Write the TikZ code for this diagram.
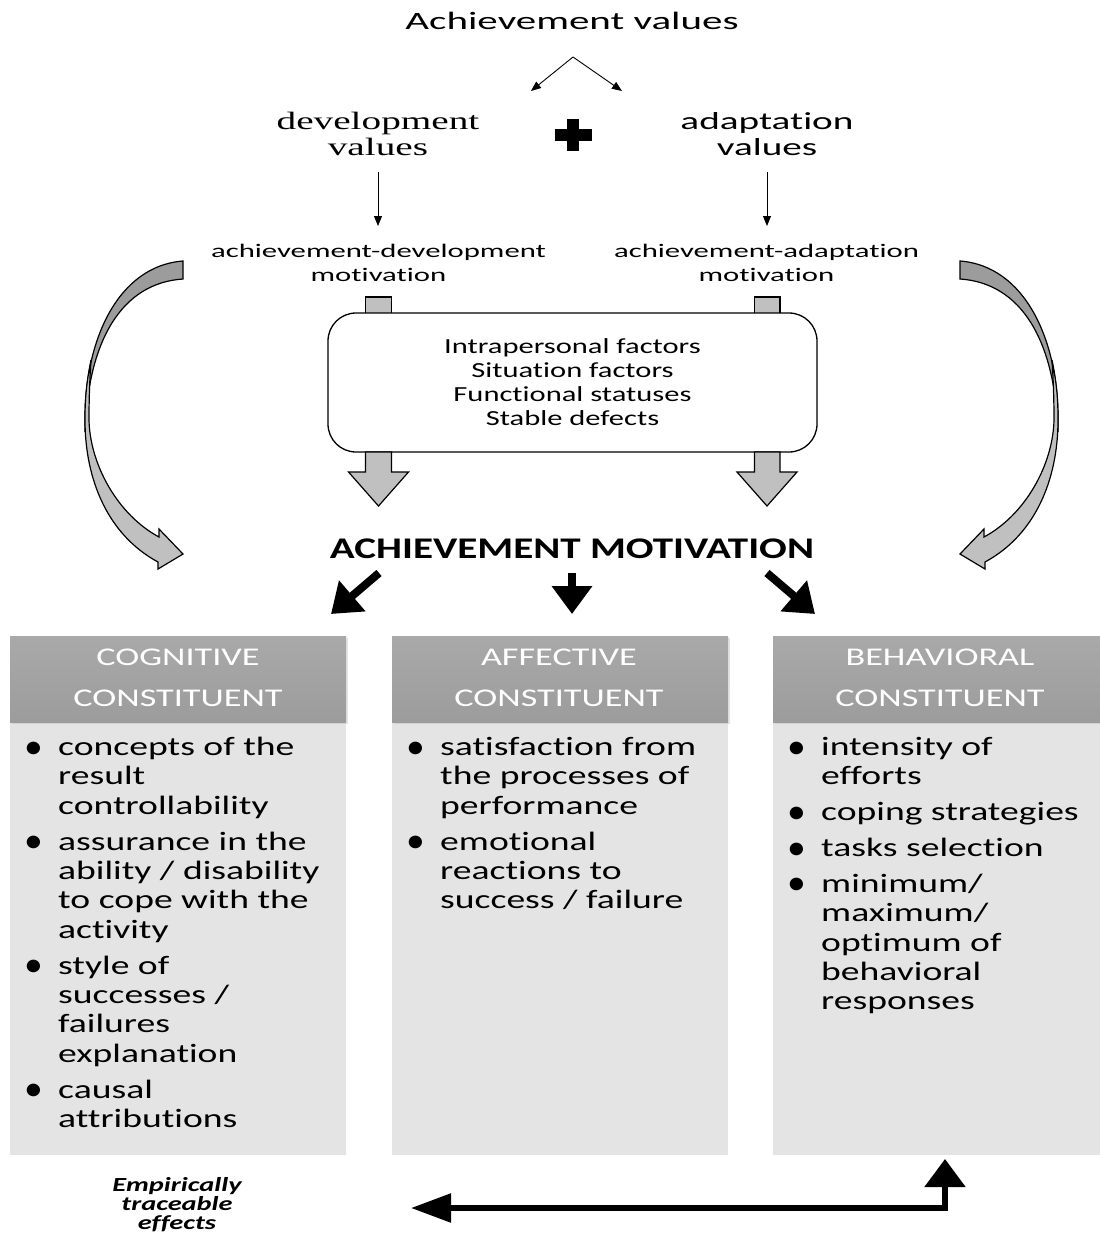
\documentclass[tikz,border=0pt]{standalone}
\usepackage{graphicx}
\usepackage{fontspec}
\setmainfont{Carlito}[FakeStretch=1.42, Ligatures=NoCommon]
\newfontfamily\topfont{Carlito}[FakeStretch=1.6, Ligatures=NoCommon]
\newfontfamily\serifw{Liberation Serif}[FakeStretch=1.57, Ligatures=NoCommon]
\usetikzlibrary{arrows.meta}
\newcommand\fitw[2]{\resizebox{#1}{\height}{#2}}
\newcommand\stk[1]{\begin{tabular}[t]{@{}c@{}}#1\end{tabular}}
\newcommand\blist[1]{\begin{tabular}[t]{@{}p{34pt}@{}l@{}}#1\end{tabular}}
\newcommand\bul{\raisebox{-2.6pt}{\scalebox{1.0}[1.35]{\textbullet}}}
\definecolor{arrgray}{HTML}{C0C0C0}
\definecolor{arrdark}{HTML}{9C9C9C}
\definecolor{hdrtop}{HTML}{A9A9A9}
\definecolor{hdrbot}{HTML}{9C9C9C}
\definecolor{bodyc}{HTML}{E4E4E4}
\tikzset{
  lbl/.style={inner sep=0pt, anchor=base},
  thinarr/.style={line width=0.9pt, -{Triangle[length=10pt,width=8pt]}},
  bigarr/.style={line width=8pt, -{Triangle[length=28pt,width=39pt]}},
  blockarr/.style={fill=arrgray, draw=black, line width=1.2pt, line join=miter},
  hdrbox/.style={draw=none, top color=hdrtop, bottom color=hdrbot, minimum width=336pt, minimum height=86pt, inner sep=0pt},
  bodybox/.style={draw=none, fill=bodyc, minimum width=336pt, minimum height=433pt, inner sep=0pt},
  hdrtxt/.style={lbl, text=white, font=\fontsize{25.5}{40.3}\selectfont},
  bodytxt/.style={inner sep=0pt, anchor=base west, font=\fontsize{26.5}{29.4}\selectfont},
  backband/.style={fill=arrdark, draw=black, line width=1.2pt},
  frontband/.style={fill=arrgray, draw=black, line width=1.2pt, line join=miter},
}
\newcommand\curvedarrow{%
  \draw[backband] (183,261) .. controls (118,266) and (85,340) .. (85,418)
     -- (85,432)
     .. controls (88,340) and (122,283) .. (183,279) -- cycle;
  \draw[frontband] (91,360) .. controls (86,385) and (85,400) .. (85,420)
     .. controls (85,480) and (108,535) .. (158,562)
     -- (158,569) -- (183,554) -- (159,529) -- (159,537)
     .. controls (118,515) and (90,465) .. (89,420)
     .. controls (89,395) and (90,375) .. (91,360) -- cycle;
}
\begin{document}
\begin{tikzpicture}[x=1pt,y=-1pt]
\useasboundingbox (0,0) rectangle (1100,1235);

% ---------- top ----------
\node[lbl] (av) at (572,29.5) {\fitw{333pt}{\topfont\fontsize{25}{30}\selectfont Achievement values}};
\coordinate (avs) at (573,57);
\coordinate (devin) at (531,91);
\coordinate (adin) at (622,91);
\draw[thinarr] (avs) -- (devin);
\draw[thinarr] (avs) -- (adin);

\node[lbl] (devv) at (378,129) {\serifw\fontsize{25}{26.5}\selectfont\stk{development\\values}};
\node[lbl] (adv) at (767,129) {\topfont\fontsize{24.5}{26.5}\selectfont\stk{adaptation\\values}};
\fill (554.5,129) rectangle (591.5,141);
\fill (567,119) rectangle (579,151);

\coordinate (devo) at (378,172);
\coordinate (admi) at (378,226);
\coordinate (advo) at (767,172);
\coordinate (aami) at (767,226);
\draw[thinarr] (devo) -- (admi);
\draw[thinarr] (advo) -- (aami);

\node[lbl] (adm) at (378.5,257.3) {\topfont\fontsize{19.2}{24}\selectfont\stk{achievement-development\\motivation}};
\node[lbl] (aam) at (766.5,257.3) {\topfont\fontsize{19.2}{24}\selectfont\stk{achievement-adaptation\\motivation}};

% ---------- factors box ----------
\draw[blockarr] (365.5,297) rectangle (391.5,314);
\draw[blockarr] (754.5,297) rectangle (780,314);
\node[draw, line width=1.3pt, fill=white, rounded corners=28pt, minimum width=489pt, minimum height=139pt, inner sep=0pt] (fac) at (572.5,382.5) {};
\node[lbl] (factxt) at (572.5,353.3) {\fontsize{21.5}{24}\selectfont\stk{Intrapersonal factors\\Situation factors\\Functional statuses\\Stable defects}};
\draw[blockarr] (365.5,452) -- (365.5,472) -- (348.5,472) -- (378.5,506) -- (408.5,472) -- (391.5,472) -- (391.5,452) -- cycle;
\draw[blockarr] (754.5,452) -- (754.5,472) -- (737,472) -- (767,506) -- (797,472) -- (780,472) -- (780,452) -- cycle;

% ---------- curved arrows ----------
\begin{scope}
\curvedarrow
\end{scope}
\begin{scope}[xshift=1143pt, xscale=-1]
\curvedarrow
\end{scope}

% ---------- achievement motivation ----------
\node[lbl] (am) at (572,558) {\fitw{484pt}{\fontsize{30}{36}\selectfont\bfseries ACHIEVEMENT MOTIVATION}};
\coordinate (aml) at (379,573);
\coordinate (amm) at (572,573);
\coordinate (amr) at (767,573);
\coordinate (cogin) at (331,614);
\coordinate (affin) at (572,614);
\coordinate (behin) at (815,614);
\draw[bigarr] (aml) -- (cogin);
\draw[bigarr] (amm) -- (affin);
\draw[bigarr] (amr) -- (behin);

% ---------- columns ----------
\node[bodybox] (cogb) at (178,938.5) {};
\node[bodybox] (affb) at (560,938.5) {};
\node[bodybox] (behb) at (941,938.5) {};
\fill[black!30, opacity=0.35] (11.5,637.5) rectangle (347.5,723.5);
\fill[black!30, opacity=0.35] (393.5,637.5) rectangle (729.5,723.5);
\fill[black!30, opacity=0.35] (774.5,637.5) rectangle (1110.5,723.5);
\node[hdrbox] (cogh) at (178,679) {};
\node[hdrbox] (affh) at (560,679) {};
\node[hdrbox] (behh) at (941,679) {};
\node[hdrtxt] (cogt) at (178,665.7) {\stk{COGNITIVE\\CONSTITUENT}};
\node[hdrtxt] (afft) at (559,665.7) {\stk{AFFECTIVE\\CONSTITUENT}};
\node[hdrtxt] (beht) at (940,665.7) {\stk{BEHAVIORAL\\CONSTITUENT}};

\node[bodytxt] (cogl) at (24,755.5) {\blist{%
\bul & concepts of the\\ & result\\ & controllability\\[6.4pt]
\bul & assurance in the\\ & ability / disability\\ & to cope with the\\ & activity\\[6.4pt]
\bul & style of\\ & successes /\\ & failures\\ & explanation\\[6.4pt]
\bul & causal\\ & attributions}};
\node[bodytxt] (affl) at (406,755.5) {\blist{%
\bul & satisfaction from\\ & the processes of\\ & performance\\[6.4pt]
\bul & emotional\\ & reactions to\\ & success / failure}};
\node[bodytxt] (behl) at (787,755.5) {\blist{%
\bul & intensity of\\ & efforts\\[6.4pt]
\bul & coping strategies\\[6.4pt]
\bul & tasks selection\\[6.4pt]
\bul & minimum/\\ & maximum/\\ & optimum of\\ & behavioral\\ & responses}};

% ---------- bottom ----------
\node[lbl] (emp) at (177,1191) {\fontsize{20}{18.2}\selectfont\bfseries\itshape\stk{Empirically\\traceable\\effects}};
\coordinate (effl) at (411,1208);
\coordinate (effc) at (945,1208);
\coordinate (behin2) at (945,1159);
\draw[line width=5.5pt, {Triangle[length=40pt,width=28pt]}-{Triangle[length=28pt,width=40pt]}] (effl) -- (effc) -- (behin2);
\end{tikzpicture}
\end{document}
